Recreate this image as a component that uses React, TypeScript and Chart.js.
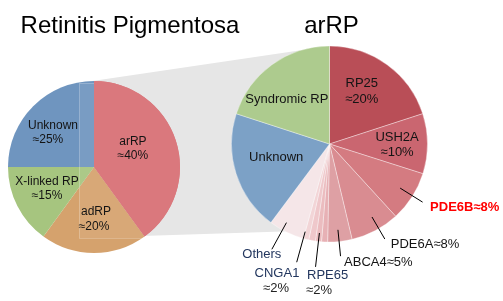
import React, { useEffect, useRef } from "react";
import { Chart, registerables } from "chart.js";

Chart.register(...registerables);

const W = 503;
const H = 301;
const FONT = '"Liberation Sans", Arial, Helvetica, sans-serif';

// ---- Data: Retinitis Pigmentosa (left pie) ----
const rpCategories = ["arRP", "adRP", "X-linked RP", "Unknown"];
const rpValues = [40, 20, 15, 25];
const rpPercentLabels = ["≈40%", "≈20%", "≈15%", "≈25%"];

// ---- Data: arRP breakdown (right pie) ----
const arrpCategories = [
  "RP25", "USH2A", "PDE6B", "PDE6A", "ABCA4", "", "RPE65", "", "CNGA1", "Others", "Unknown", "Syndromic RP",
];
const arrpValues = [20, 9.9, 8.3, 8.1, 4, 1, 1, 1.1, 0.9, 5.9, 19.8, 20];
const arrpPercentLabels = ["≈20%", "≈10%", "≈8%", "≈8%", "≈5%", "", "≈2%", "", "≈2%", "", "", ""];

const titleLeft = "Retinitis Pigmentosa";
const titleRight = "arRP";

// ---- Styles ----
const rpColors = ["#DA787D", "#D5A26D", "#A6C57F", "#6F95BF"];
const arrpColors = [
  "#B94E57", "#CA6670", "#D47B81", "#D98C91", "#DEA0A4", "#E7B1B5",
  "#EBBCBF", "#EFC8CB", "#F2D5D7", "#F5E6E8", "#7CA1C6", "#ADCB8E",
];

const LEFT_PIE = { cx: 94, cy: 167, r: 86 };
const RIGHT_PIE = { cx: 329.5, cy: 144, r: 98 };

const padFor = (p: { cx: number; cy: number; r: number }) => ({
  left: p.cx - p.r,
  right: W - p.cx - p.r,
  top: p.cy - p.r,
  bottom: H - p.cy - p.r,
});

type Lay = {
  kind: "in" | "out";
  rFrac?: number;
  dx?: number;
  dy?: number;
  lineH?: number;
  nameDx?: number;
  pctDx?: number;
  dTheta?: number;
  r0?: number;
  r1?: number;
  inline?: boolean;
  align?: CanvasTextAlign;
  nx?: number;
  ny?: number;
  px?: number;
  py?: number;
  color?: string;
  nameColor?: string;
  bold?: boolean;
};

const leftLayout: (Lay | null)[] = [
  { kind: "in", rFrac: 0.5, dx: -2, dy: -4.7, lineH: 14 },
  { kind: "in", rFrac: 0.61, dx: 1, dy: 0, lineH: 15, nameDx: 1, pctDx: -1 },
  { kind: "in", rFrac: 0.6, dx: -1, dy: -1.4, lineH: 14 },
  { kind: "in", rFrac: 0.64, dx: -4.6, dy: 4.9, lineH: 14, nameDx: 2.5, pctDx: -2.5 },
];

const NAVY = "#22365E";
const rightLayout: (Lay | null)[] = [
  { kind: "in", rFrac: 0.63, dx: -4, dy: -2.5, lineH: 16 },
  { kind: "in", rFrac: 0.7, dx: -1, dy: 1.3, lineH: 15 },
  { kind: "out", dTheta: -0.6, r0: 0.85, r1: 1.12, inline: true, align: "left", nx: 7.5, ny: 5.5, color: "#FF0000", bold: true },
  { kind: "out", dTheta: -2.3, r0: 0.862, r1: 1.122, inline: true, align: "left", nx: 6, ny: 5 },
  { kind: "out", dTheta: 0.5, r0: 0.88, r1: 1.15, inline: true, align: "left", nx: 3.5, ny: 6 },
  null,
  { kind: "out", dTheta: 0, r0: 0.914, r1: 1.262, align: "left", nx: -8.5, ny: 9, px: -9.5, py: 24, nameColor: NAVY },
  null,
  { kind: "out", dTheta: 1.65, r0: 0.928, r1: 1.252, align: "center", nx: -19.7, ny: 10.8, px: -20.7, py: 25.8, nameColor: NAVY },
  { kind: "out", dTheta: 2.6, r0: 0.915, r1: 1.225, align: "center", nx: -10, ny: 4.7, nameColor: NAVY },
  { kind: "in", rFrac: 0.56, dx: -1, dy: -3.7 },
  { kind: "in", rFrac: 0.62, dx: -7, dy: 5 },
];

function drawLabels(
  chart: any,
  layouts: (Lay | null)[],
  names: string[],
  pcts: string[],
  size: number
) {
  const ctx: CanvasRenderingContext2D = chart.ctx;
  const meta = chart.getDatasetMeta(0);
  ctx.save();
  ctx.textBaseline = "middle";
  meta.data.forEach((arc: any, i: number) => {
    const L = layouts[i];
    if (!L) return;
    const p = arc.getProps(["x", "y", "startAngle", "endAngle", "outerRadius"], true);
    const mid = (p.startAngle + p.endAngle) / 2 + ((L.dTheta || 0) * Math.PI) / 180;
    const at = (f: number) => [p.x + Math.cos(mid) * p.outerRadius * f, p.y + Math.sin(mid) * p.outerRadius * f];
    const baseColor = L.color || "#141414";
    ctx.font = `${L.bold ? "bold " : ""}${size}px ${FONT}`;
    if (L.kind === "in") {
      const [mx, my] = at(L.rFrac || 0.6);
      const cx = mx + (L.dx || 0);
      const cy = my + (L.dy || 0);
      ctx.textAlign = "center";
      ctx.fillStyle = baseColor;
      if (pcts[i]) {
        const lh = L.lineH || 15;
        ctx.fillText(names[i], cx + (L.nameDx || 0), cy - lh / 2);
        ctx.fillText(pcts[i], cx + (L.pctDx || 0), cy + lh / 2);
      } else {
        ctx.fillText(names[i], cx, cy);
      }
    } else {
      const [x0, y0] = at(L.r0 || 0.9);
      const [x1, y1] = at(L.r1 || 1.15);
      ctx.strokeStyle = "#000";
      ctx.lineWidth = 1;
      ctx.beginPath();
      ctx.moveTo(x0, y0);
      ctx.lineTo(x1, y1);
      ctx.stroke();
      ctx.textAlign = L.align || "left";
      if (L.inline) {
        ctx.fillStyle = baseColor;
        ctx.fillText(names[i] + pcts[i], x1 + (L.nx || 0), y1 + (L.ny || 0));
      } else {
        ctx.fillStyle = L.nameColor || baseColor;
        ctx.fillText(names[i], x1 + (L.nx || 0), y1 + (L.ny || 0));
        if (pcts[i]) {
          ctx.fillStyle = "#222";
          ctx.fillText(pcts[i], x1 + (L.px || 0), y1 + (L.py || 0));
        }
      }
    }
  });
  ctx.restore();
}

const zoomBand = {
  id: "zoomBand",
  beforeDatasetsDraw(chart: any) {
    const ctx: CanvasRenderingContext2D = chart.ctx;
    const L = LEFT_PIE;
    const R = RIGHT_PIE;
    const x0 = L.cx - 0.175 * L.r;
    const top = L.cy - 0.977 * L.r;
    const bot = L.cy + 0.826 * L.r;
    ctx.save();
    ctx.fillStyle = "#E6E6E6";
    ctx.beginPath();
    ctx.moveTo(x0, top);
    ctx.lineTo(R.cx, R.cy - R.r);
    ctx.lineTo(R.cx, R.cy + 0.878 * R.r);
    ctx.lineTo(x0, bot);
    ctx.closePath();
    ctx.fill();
    ctx.restore();
  },
  afterDatasetsDraw(chart: any) {
    const ctx: CanvasRenderingContext2D = chart.ctx;
    const L = LEFT_PIE;
    const x0 = L.cx - 0.175 * L.r;
    const top = L.cy - 0.977 * L.r;
    const bot = L.cy + 0.826 * L.r;
    ctx.save();
    ctx.beginPath();
    ctx.arc(L.cx, L.cy, L.r, 0, Math.PI * 2);
    ctx.clip();
    ctx.fillStyle = "rgba(255,255,255,0.07)";
    ctx.fillRect(x0, top, 400, bot - top);
    ctx.strokeStyle = "rgba(255,255,255,0.22)";
    ctx.lineWidth = 1;
    ctx.strokeRect(Math.round(x0) + 0.5, Math.round(top) + 0.5, 400, Math.round(bot - top));
    ctx.restore();
    const meta = chart.getDatasetMeta(0);
    meta.data[0].draw(ctx);
  },
  afterDraw(chart: any) {
    const ctx: CanvasRenderingContext2D = chart.ctx;
    drawLabels(chart, leftLayout, rpCategories, rpPercentLabels, 12);
    ctx.save();
    ctx.font = `24px ${FONT}`;
    ctx.fillStyle = "#000";
    ctx.textAlign = "center";
    ctx.textBaseline = "alphabetic";
    ctx.fillText(titleLeft, 130, 33);
    ctx.restore();
  },
};

const rightDecor = {
  id: "rightDecor",
  afterDraw(chart: any) {
    const ctx: CanvasRenderingContext2D = chart.ctx;
    drawLabels(chart, rightLayout, arrpCategories, arrpPercentLabels, 13);
    ctx.save();
    ctx.font = `24px ${FONT}`;
    ctx.fillStyle = "#000";
    ctx.textAlign = "center";
    ctx.textBaseline = "alphabetic";
    ctx.fillText(titleRight, 331.5, 33);
    ctx.restore();
  },
};

const baseOptions = (pad: any, radius: number) => ({
  responsive: false,
  animation: false as const,
  devicePixelRatio: 1,
  events: [] as any[],
  radius,
  layout: { padding: pad },
  plugins: {
    legend: { display: false },
    tooltip: { enabled: false },
    title: { display: false },
  },
});

export default function App() {
  const leftRef = useRef<HTMLCanvasElement>(null);
  const rightRef = useRef<HTMLCanvasElement>(null);

  useEffect(() => {
    const c1 = new Chart(leftRef.current as HTMLCanvasElement, {
      type: "pie",
      data: {
        labels: rpCategories,
        datasets: [
          {
            data: rpValues,
            backgroundColor: rpColors,
            borderWidth: 0,
          },
        ],
      },
      options: baseOptions(padFor(LEFT_PIE), LEFT_PIE.r) as any,
      plugins: [zoomBand],
    });
    const c2 = new Chart(rightRef.current as HTMLCanvasElement, {
      type: "pie",
      data: {
        labels: arrpCategories,
        datasets: [
          {
            data: arrpValues,
            backgroundColor: arrpColors,
            borderColor: "rgba(255,255,255,0.45)",
            borderWidth: 0.8,
          },
        ],
      },
      options: baseOptions(padFor(RIGHT_PIE), RIGHT_PIE.r) as any,
      plugins: [rightDecor],
    });
    return () => {
      c1.destroy();
      c2.destroy();
    };
  }, []);

  return (
    <div style={{ position: "fixed", left: 0, top: 0, width: W, height: H, background: "#fff" }}>
      <canvas ref={leftRef} width={W} height={H} style={{ position: "absolute", left: 0, top: 0 }} />
      <canvas ref={rightRef} width={W} height={H} style={{ position: "absolute", left: 0, top: 0 }} />
    </div>
  );
}
